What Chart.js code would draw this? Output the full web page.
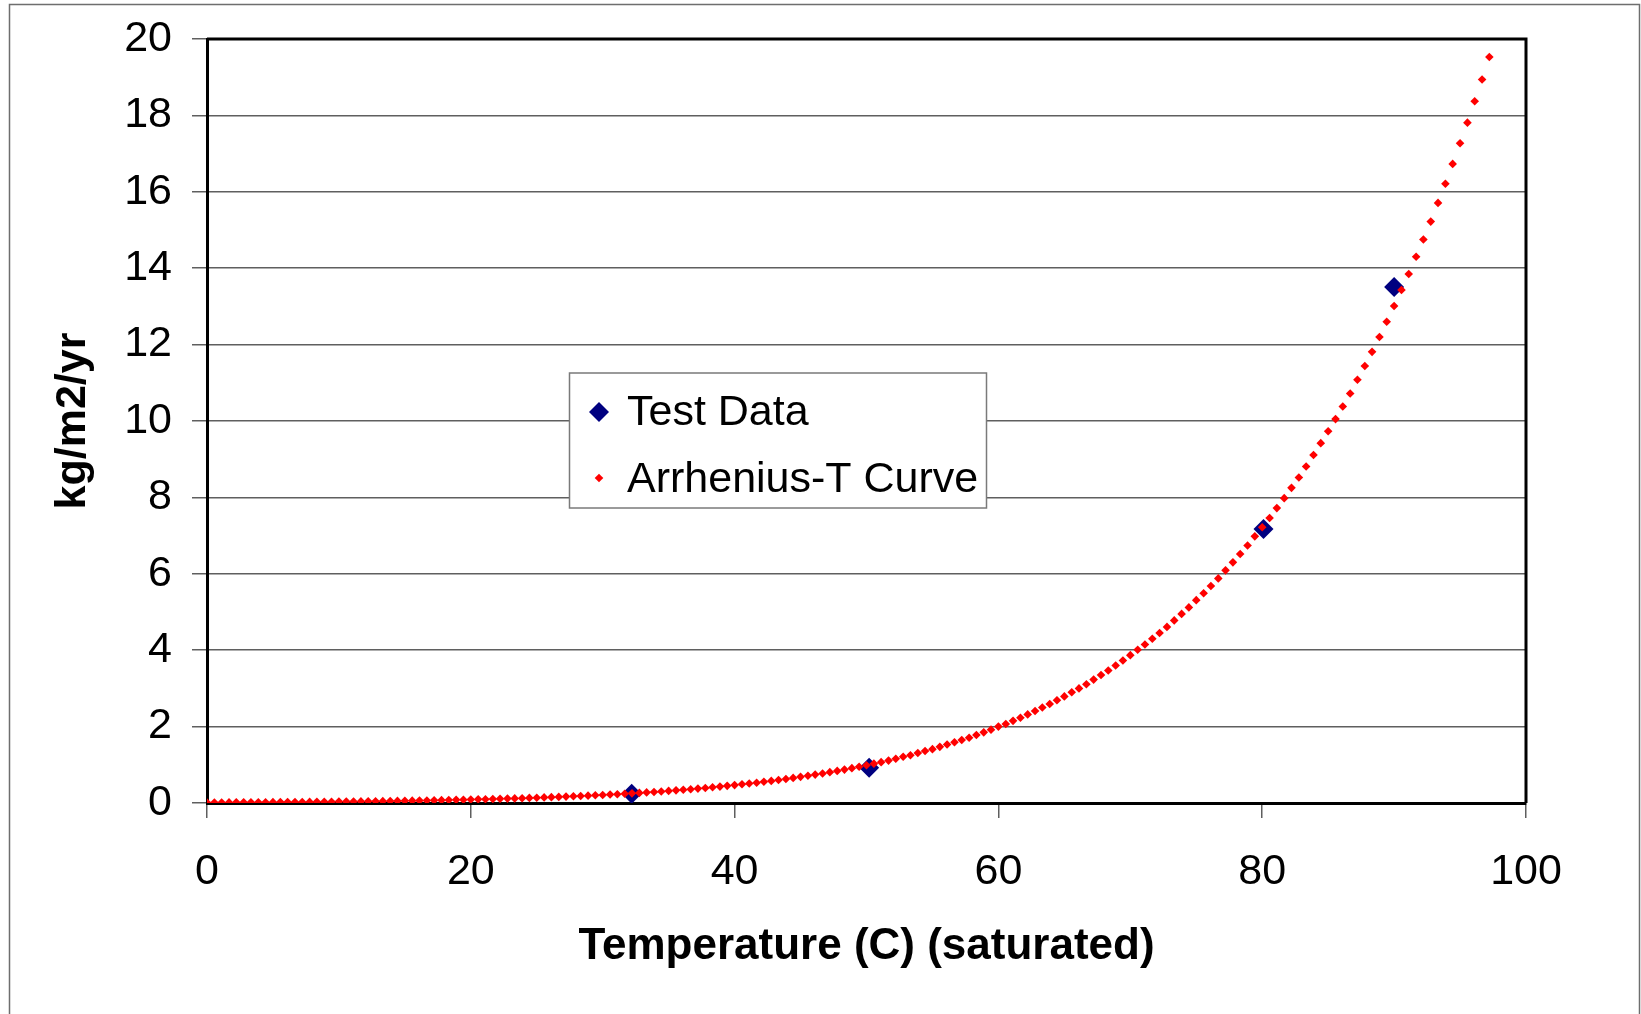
<!DOCTYPE html>
<html>
<head>
<meta charset="utf-8">
<script src="https://cdn.jsdelivr.net/npm/chart.js@4.4.1/dist/chart.umd.min.js"></script>
<style>
  html, body { margin: 0; padding: 0; background: #fff; }
  #wrap { width: 1641px; height: 1014px; position: relative; }
</style>
</head>
<body>
<div id="wrap"><canvas id="chart"></canvas></div>
<script>
// measured points
const testTemps = [32.2, 50.2, 80.1, 90.0];
const testRates = [0.24, 0.92, 7.17, 13.51];

// curve sampled every 1 F (shown in C)
const curveTemps = [
  0, 0.56, 1.11, 1.67, 2.22, 2.78, 3.33, 3.89, 4.44,
  5, 5.56, 6.11, 6.67, 7.22, 7.78, 8.33, 8.89, 9.44,
  10, 10.56, 11.11, 11.67, 12.22, 12.78, 13.33, 13.89, 14.44,
  15, 15.56, 16.11, 16.67, 17.22, 17.78, 18.33, 18.89, 19.44,
  20, 20.56, 21.11, 21.67, 22.22, 22.78, 23.33, 23.89, 24.44,
  25, 25.56, 26.11, 26.67, 27.22, 27.78, 28.33, 28.89, 29.44,
  30, 30.56, 31.11, 31.67, 32.22, 32.78, 33.33, 33.89, 34.44,
  35, 35.56, 36.11, 36.67, 37.22, 37.78, 38.33, 38.89, 39.44,
  40, 40.56, 41.11, 41.67, 42.22, 42.78, 43.33, 43.89, 44.44,
  45, 45.56, 46.11, 46.67, 47.22, 47.78, 48.33, 48.89, 49.44,
  50, 50.56, 51.11, 51.67, 52.22, 52.78, 53.33, 53.89, 54.44,
  55, 55.56, 56.11, 56.67, 57.22, 57.78, 58.33, 58.89, 59.44,
  60, 60.56, 61.11, 61.67, 62.22, 62.78, 63.33, 63.89, 64.44,
  65, 65.56, 66.11, 66.67, 67.22, 67.78, 68.33, 68.89, 69.44,
  70, 70.56, 71.11, 71.67, 72.22, 72.78, 73.33, 73.89, 74.44,
  75, 75.56, 76.11, 76.67, 77.22, 77.78, 78.33, 78.89, 79.44,
  80, 80.56, 81.11, 81.67, 82.22, 82.78, 83.33, 83.89, 84.44,
  85, 85.56, 86.11, 86.67, 87.22, 87.78, 88.33, 88.89, 89.44,
  90, 90.56, 91.11, 91.67, 92.22, 92.78, 93.33, 93.89, 94.44,
  95, 95.56, 96.11, 96.67, 97.22
];
const curveRates = [
  0.014, 0.014, 0.015, 0.016, 0.017, 0.018, 0.019, 0.020, 0.021,
  0.022, 0.024, 0.025, 0.026, 0.028, 0.029, 0.031, 0.033, 0.034,
  0.036, 0.038, 0.040, 0.042, 0.045, 0.047, 0.049, 0.052, 0.055,
  0.058, 0.061, 0.064, 0.067, 0.070, 0.074, 0.078, 0.082, 0.086,
  0.090, 0.095, 0.099, 0.104, 0.109, 0.115, 0.121, 0.126, 0.133,
  0.139, 0.146, 0.153, 0.160, 0.168, 0.176, 0.184, 0.193, 0.202,
  0.211, 0.221, 0.231, 0.242, 0.253, 0.265, 0.277, 0.289, 0.303,
  0.317, 0.331, 0.345, 0.361, 0.377, 0.394, 0.411, 0.429, 0.449,
  0.469, 0.489, 0.510, 0.532, 0.555, 0.579, 0.604, 0.630, 0.657,
  0.685, 0.714, 0.743, 0.774, 0.807, 0.840, 0.875, 0.912, 0.949,
  0.989, 1.03, 1.07, 1.11, 1.16, 1.21, 1.25, 1.31, 1.36,
  1.41, 1.47, 1.53, 1.59, 1.65, 1.71, 1.78, 1.85, 1.92,
  2.00, 2.07, 2.15, 2.23, 2.32, 2.41, 2.50, 2.59, 2.69,
  2.79, 2.90, 3.00, 3.11, 3.23, 3.35, 3.47, 3.60, 3.73,
  3.87, 4.01, 4.15, 4.30, 4.45, 4.61, 4.78, 4.95, 5.12,
  5.31, 5.49, 5.68, 5.88, 6.09, 6.30, 6.52, 6.74, 6.98,
  7.22, 7.46, 7.72, 7.98, 8.25, 8.52, 8.81, 9.11, 9.42,
  9.73, 10.05, 10.38, 10.72, 11.08, 11.44, 11.81, 12.20, 12.60,
  13.01, 13.43, 13.85, 14.30, 14.75, 15.22, 15.71, 16.21, 16.73,
  17.27, 17.81, 18.37, 18.94, 19.53
];

const xTicks = [0, 20, 40, 60, 80, 100];
const yTicks = [0, 2, 4, 6, 8, 10, 12, 14, 16, 18, 20];

const seriesNames = ["Test Data", "Arrhenius-T Curve"];
const testColor = "#000080";
const curveColor = "#ff0000";
const gridColor = "#5f5f5f";
const fontFamily = "'Liberation Sans', Arial, sans-serif";

Chart.defaults.font.family = fontFamily;
Chart.defaults.color = "#000";

function toPoints(xs, ys) {
  return xs.map((x, i) => ({ x: x, y: ys[i] }));
}

function diamond(ctx, x, y, r, color) {
  ctx.fillStyle = color;
  ctx.beginPath();
  ctx.moveTo(x - r, y);
  ctx.lineTo(x, y - r);
  ctx.lineTo(x + r, y);
  ctx.lineTo(x, y + r);
  ctx.closePath();
  ctx.fill();
}

const framePlugin = {
  id: "frame",
  beforeDraw(chart) {
    const ctx = chart.ctx;
    ctx.save();
    ctx.fillStyle = "#fff";
    ctx.fillRect(0, 0, chart.width, chart.height);
    ctx.strokeStyle = "#6e6e6e";
    ctx.lineWidth = 1.5;
    ctx.strokeRect(9.5, 4.5, chart.width - 11, chart.height + 20);
    ctx.restore();
  },
  beforeDatasetsDraw(chart) {
    const { ctx, chartArea: a } = chart;
    ctx.save();
    ctx.strokeStyle = "#000";
    ctx.lineWidth = 3;
    ctx.beginPath();
    ctx.moveTo(a.left, a.top);
    ctx.lineTo(a.right, a.top);
    ctx.lineTo(a.right, a.bottom);
    ctx.stroke();
    ctx.restore();
  },
  afterDraw(chart) {
    // legend box
    const ctx = chart.ctx;
    ctx.save();
    ctx.fillStyle = "#fff";
    ctx.fillRect(569.5, 373, 417, 135);
    ctx.strokeStyle = "#7a7a7a";
    ctx.lineWidth = 1.5;
    ctx.strokeRect(569.5, 373, 417, 135);
    diamond(ctx, 599, 412, 10, testColor);
    diamond(ctx, 599, 478, 4.3, curveColor);
    ctx.fillStyle = "#000";
    ctx.font = "43px " + fontFamily;
    ctx.textAlign = "left";
    ctx.textBaseline = "alphabetic";
    ctx.fillText(seriesNames[0], 627, 425);
    ctx.fillText(seriesNames[1], 627, 492);
    ctx.restore();
  },
};

new Chart(document.getElementById("chart"), {
  type: "scatter",
  data: {
    datasets: [
      {
        label: seriesNames[0],
        data: toPoints(testTemps, testRates),
        pointStyle: "rectRot",
        pointRadius: 10,
        pointBorderWidth: 0,
        pointBackgroundColor: testColor,
        order: 2,
      },
      {
        label: seriesNames[1],
        data: toPoints(curveTemps, curveRates),
        pointStyle: "rectRot",
        pointRadius: 4.3,
        pointBorderWidth: 0,
        pointBackgroundColor: curveColor,
        order: 1,
      },
    ],
  },
  options: {
    responsive: true,
    maintainAspectRatio: false,
    animation: false,
    events: [],
    layout: { padding: { top: 39, right: 115, bottom: 0, left: 0 } },
    plugins: {
      legend: { display: false },
      tooltip: { enabled: false },
    },
    scales: {
      x: {
        type: "linear",
        min: 0,
        max: 100,
        afterFit(scale) {
          scale.height = 211;
          scale.paddingLeft = 0;
          scale.paddingRight = 0;
        },
        afterBuildTicks(scale) { scale.ticks = xTicks.map((v) => ({ value: v })); },
        ticks: { font: { size: 43 }, padding: 28, maxRotation: 0 },
        grid: { drawOnChartArea: false, drawTicks: true, tickLength: 15, color: gridColor, lineWidth: 1.5 },
        border: { color: "#000", width: 3 },
        title: {
          display: true,
          text: "Temperature (C) (saturated)",
          font: { size: 44, weight: "bold" },
          padding: { top: 0, bottom: 41 },
        },
      },
      y: {
        min: 0,
        max: 20,
        afterFit(scale) {
          scale.width = 207;
          scale.paddingTop = 0;
          scale.paddingBottom = 0;
        },
        afterBuildTicks(scale) { scale.ticks = yTicks.map((v) => ({ value: v })); },
        ticks: { font: { size: 43 }, padding: 20 },
        grid: { tickLength: 15, color: gridColor, lineWidth: 1.5 },
        border: { color: "#000", width: 3 },
        title: {
          display: true,
          text: "kg/m2/yr",
          font: { size: 43, weight: "bold" },
          padding: { top: 47, bottom: 0 },
        },
      },
    },
  },
  plugins: [framePlugin],
});
</script>
</body>
</html>
